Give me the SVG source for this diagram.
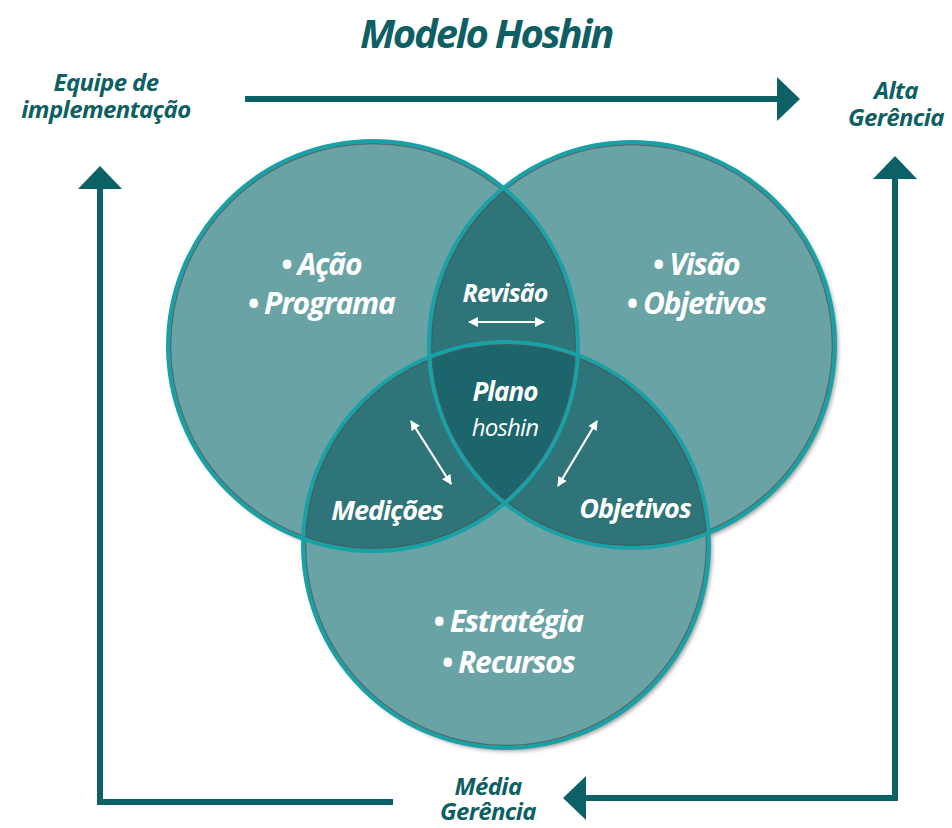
<svg xmlns="http://www.w3.org/2000/svg" width="952" height="828" viewBox="0 0 952 828">
<style>
.lbl{font-family:"Open Sans","Noto Sans","Liberation Sans",sans-serif;font-style:italic;font-weight:700;}
.dark{fill:#0e5f63;}
.wt{fill:#ffffff;}
.fill1{fill:#6aa3a6;}
.fill2{fill:#2e7478;}
.fill3{fill:#1c656a;}
.ring{fill:none;stroke:#18a1a6;stroke-width:4;}
.inner{fill:none;stroke:#4b5a5a;stroke-width:1.6;stroke-opacity:0.75;}
.conn{stroke:#0b6165;stroke-width:6;fill:none;}
.head{fill:#0b6165;}
.warr{stroke:#ffffff;stroke-width:2.2;fill:none;}
</style>
<defs>
<filter id="sh" x="-10%" y="-10%" width="125%" height="125%">
<feDropShadow dx="3" dy="3" stdDeviation="2" flood-color="#555" flood-opacity="0.6"/>
</filter>
<clipPath id="cA"><circle cx="373" cy="346" r="205"/></clipPath>
<clipPath id="cB"><circle cx="632" cy="345" r="203"/></clipPath>
<marker id="wh" viewBox="0 0 10 10" refX="9" refY="5" markerWidth="4.5" markerHeight="4.5" orient="auto-start-reverse">
<path d="M0,0 L10,5 L0,10 z" fill="#ffffff"/>
</marker>
</defs>
<rect width="952" height="828" fill="#ffffff"/>

<text class="lbl dark" x="486" y="48" font-size="40" text-anchor="middle" letter-spacing="-2.2">Modelo Hoshin</text>

<g id="connectors">
<line class="conn" x1="245" y1="99" x2="782" y2="99"/>
<polygon class="head" points="800,99 777,77 777,121"/>
<polyline class="conn" points="393,802 100,802 100,185"/>
<polygon class="head" points="100,166 78,189 122,189"/>
<polyline class="conn" points="585,798 895,798 895,175"/>
<polygon class="head" points="895,156 873,179 917,179"/>
<polygon class="head" points="563,798 586,776 586,820"/>
</g>

<g id="circles-base" filter="url(#sh)">
<circle class="fill1" cx="373" cy="346" r="205"/>
<circle class="fill1" cx="632" cy="345" r="203"/>
<circle class="fill1" cx="506" cy="545" r="203"/>
</g>
<g id="overlaps">
<g clip-path="url(#cA)"><circle class="fill2" cx="632" cy="345" r="203"/><circle class="fill2" cx="506" cy="545" r="203"/></g>
<g clip-path="url(#cB)"><circle class="fill2" cx="506" cy="545" r="203"/></g>
<g clip-path="url(#cA)"><g clip-path="url(#cB)"><circle class="fill3" cx="506" cy="545" r="203"/></g></g>
</g>
<g id="outlines">
<circle class="inner" cx="373" cy="346" r="202.5"/>
<circle class="inner" cx="632" cy="345" r="200.5"/>
<circle class="inner" cx="506" cy="545" r="200.5"/>
<circle class="ring" cx="373" cy="346" r="205"/>
<circle class="ring" cx="632" cy="345" r="203"/>
<circle class="ring" cx="506" cy="545" r="203"/>
</g>

<g id="node-equipe">
<text class="lbl dark" x="106" y="91" font-size="24" text-anchor="middle" letter-spacing="-0.6">Equipe de</text>
<text class="lbl dark" x="106" y="118" font-size="24" text-anchor="middle" letter-spacing="-0.6">implementação</text>
</g>
<g id="node-alta">
<text class="lbl dark" x="896" y="99" font-size="24" text-anchor="middle" letter-spacing="-0.6">Alta</text>
<text class="lbl dark" x="896" y="126" font-size="24" text-anchor="middle" letter-spacing="-0.6">Gerência</text>
</g>
<g id="node-media">
<text class="lbl dark" x="488" y="795" font-size="24" text-anchor="middle" letter-spacing="-0.6">Média</text>
<text class="lbl dark" x="488" y="820" font-size="24" text-anchor="middle" letter-spacing="-0.6">Gerência</text>
</g>

<g id="node-left">
<text class="lbl wt" x="321" y="275" font-size="30" text-anchor="middle" letter-spacing="-1.2">• Ação</text>
<text class="lbl wt" x="321" y="314" font-size="30" text-anchor="middle" letter-spacing="-1.2">• Programa</text>
</g>
<g id="node-right">
<text class="lbl wt" x="696" y="275" font-size="30" text-anchor="middle" letter-spacing="-1.2">• Visão</text>
<text class="lbl wt" x="696" y="314" font-size="30" text-anchor="middle" letter-spacing="-1.2">• Objetivos</text>
</g>
<g id="node-bottom">
<text class="lbl wt" x="508" y="632" font-size="30" text-anchor="middle" letter-spacing="-1.2">• Estratégia</text>
<text class="lbl wt" x="508" y="673" font-size="30" text-anchor="middle" letter-spacing="-1.2">• Recursos</text>
</g>
<g id="node-revisao">
<text class="lbl wt" x="505" y="302" font-size="25" text-anchor="middle" letter-spacing="-0.8">Revisão</text>
<line class="warr" x1="469" y1="322" x2="544" y2="322" marker-start="url(#wh)" marker-end="url(#wh)"/>
</g>
<g id="node-plano">
<text class="lbl wt" x="505" y="401" font-size="26" text-anchor="middle" letter-spacing="-1">Plano</text>
<text class="lbl wt" x="505" y="436" font-size="24" text-anchor="middle" letter-spacing="-0.8" style="font-weight:400">hoshin</text>
</g>
<g id="node-medicoes">
<text class="lbl wt" x="387" y="520" font-size="27" text-anchor="middle" letter-spacing="-1">Medições</text>
<line class="warr" x1="411" y1="421" x2="451" y2="484" marker-start="url(#wh)" marker-end="url(#wh)"/>
</g>
<g id="node-objetivos">
<text class="lbl wt" x="635" y="518" font-size="27" text-anchor="middle" letter-spacing="-1">Objetivos</text>
<line class="warr" x1="597" y1="421" x2="558" y2="486" marker-start="url(#wh)" marker-end="url(#wh)"/>
</g>
</svg>
